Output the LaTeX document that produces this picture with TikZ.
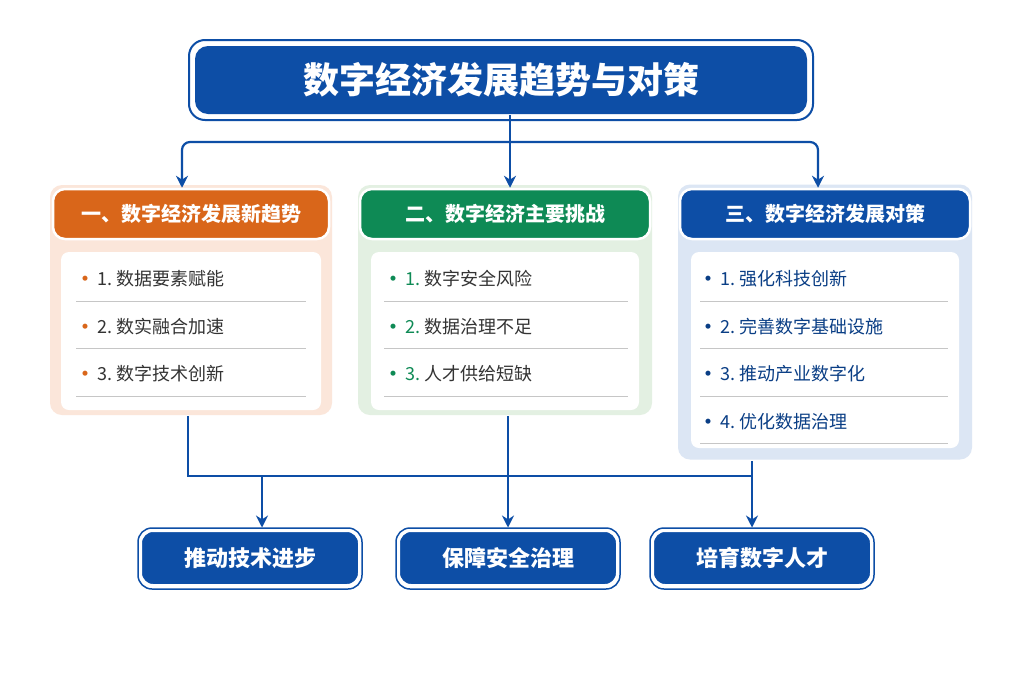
\documentclass[tikz,border=0pt]{standalone}
\usepackage{fontspec}
\setmainfont{Noto Sans CJK SC}
\usetikzlibrary{calc, positioning, arrows.meta}
\definecolor{navy}{HTML}{0D4EA6}
\definecolor{orng}{HTML}{D9661A}
\definecolor{grn}{HTML}{0E8A55}
\definecolor{lorng}{HTML}{FBE6DA}
\definecolor{lgrn}{HTML}{E3F0E2}
\definecolor{lblue}{HTML}{DCE6F4}
\definecolor{txt}{HTML}{333333}

\begin{document}
\begin{tikzpicture}[
			x=1pt, y=-1pt,
			>={Stealth[length=12pt,width=12pt]},
			line width=2pt,
			conn/.style={draw=navy, line width=2.2pt},
			bigbox/.style={fill=navy, draw=white, line width=3pt, rounded corners=14pt, text=white, font=\bfseries, double=navy, double distance=0pt},
			headbox/.style={rounded corners=12pt, text=white, font=\fontsize{20}{24}\selectfont\bfseries, minimum width=276pt, minimum height=50pt, draw=white, line width=2.5pt},
			panel/.style={rounded corners=12pt, draw=none, minimum width=282pt},
			inner/.style={rounded corners=8pt, fill=white, minimum width=260pt},
			item/.style={anchor=west, font=\fontsize{18}{21}\selectfont, text=txt},
			sep/.style={draw=gray!45, line width=0.8pt}
		]
		\useasboundingbox (0,0) rectangle (1024,683);
		\fill[white] (0,0) rectangle (1024,683);

		% title
		\node[rounded corners=16pt, draw=navy, line width=2pt, minimum width=624pt, minimum height=80pt] at (501,80) {};
		\node[fill=navy, rounded corners=13pt, minimum width=612pt, minimum height=68pt, text=white, font=\fontsize{36}{40}\selectfont\bfseries] (title) at (501,80) {数字经济发展趋势与对策};

		% panels
		\node[panel, fill=lorng, minimum height=230pt] (p1) at (191,300) {};
		\node[panel, fill=lgrn, minimum height=230pt, minimum width=294pt] (p2) at (505,300) {};
		\node[panel, fill=lblue, minimum height=275pt, minimum width=294pt] (p3) at (825,322) {};
		\node[inner, minimum height=158pt] at (191,331) {};
		\node[inner, minimum height=158pt, minimum width=268pt] at (505,331) {};
		\node[inner, minimum height=196pt, minimum width=268pt] at (825,350) {};

		\node[headbox, fill=orng] (h1) at (191,214) {一、数字经济发展新趋势};
		\node[headbox, fill=grn, minimum width=290pt] (h2) at (505,214) {二、数字经济主要挑战};
		\node[headbox, fill=navy, minimum width=290pt] (h3) at (825,214) {三、数字经济发展对策};

		% items
		\foreach \t [count=\i] in {数据要素赋能, 数实融合加速, 数字技术创新} {
			\node[item] at (72, 279+47.5*\i-47.5) {\textcolor{orng}{\textbf{•}}\,\i.\ \t};
			\draw[sep] (76, 301+47.5*\i-47.5) -- (306, 301+47.5*\i-47.5);
		}
		\foreach \t [count=\i] in {数字安全风险, 数据治理不足, 人才供给短缺} {
			\node[item] at (380, 279+47.5*\i-47.5) {\textcolor{grn}{\textbf{•}\,\i.}\ \t};
			\draw[sep] (384, 301+47.5*\i-47.5) -- (628, 301+47.5*\i-47.5);
		}
		\foreach \t [count=\i] in {强化科技创新, 完善数字基础设施, 推动产业数字化, 优化数据治理} {
			\node[item, text=navy!80!black] at (695, 279+47.5*\i-47.5) {\textbf{•}\,\i.\ \t};
			\draw[sep] (700, 301+47.5*\i-47.5) -- (948, 301+47.5*\i-47.5);
		}

		% top connectors
		\coordinate (tj) at (510,142);
		\draw[conn] (title.south -| tj) -- (tj);
		\draw[conn, rounded corners=8pt, ->] (tj) -| (h1.north -| 182,0);
		\draw[conn, ->] (tj) -- (h2.north -| tj);
		\draw[conn, rounded corners=8pt, ->] (tj) -| (h3.north -| 818,0);

		% bottom boxes
		\node[bigbox, minimum width=222pt, minimum height=58pt, font=\fontsize{22}{26}\selectfont\bfseries] (b1) at (250,558) {推动技术进步};
		\node[bigbox, minimum width=222pt, minimum height=58pt, font=\fontsize{22}{26}\selectfont\bfseries] (b2) at (508,558) {保障安全治理};
		\node[bigbox, minimum width=222pt, minimum height=58pt, font=\fontsize{22}{26}\selectfont\bfseries] (b3) at (762,558) {培育数字人才};
		\draw[navy, line width=1.5pt, rounded corners=14pt] (138,528) rectangle (362,589);
		\draw[navy, line width=1.5pt, rounded corners=14pt] (396,528) rectangle (620,589);
		\draw[navy, line width=1.5pt, rounded corners=14pt] (650,528) rectangle (874,589);

		% bottom connectors
		\coordinate (bl) at (188,476);
		\coordinate (br) at (752,476);
		\draw[conn] (p1.south -| 188,0) -- (bl) -- (br) -- (p3.south -| 752,0);
		\draw[conn] (p2.south -| 508,0) -- (508,476);
		\draw[conn, ->] (262,476) -- (b1.north -| 262,0);
		\draw[conn, ->] (508,476) -- (b2.north);
		\draw[conn, ->] (br) -- (b3.north -| 752,0);
	\end{tikzpicture}
\end{document}
